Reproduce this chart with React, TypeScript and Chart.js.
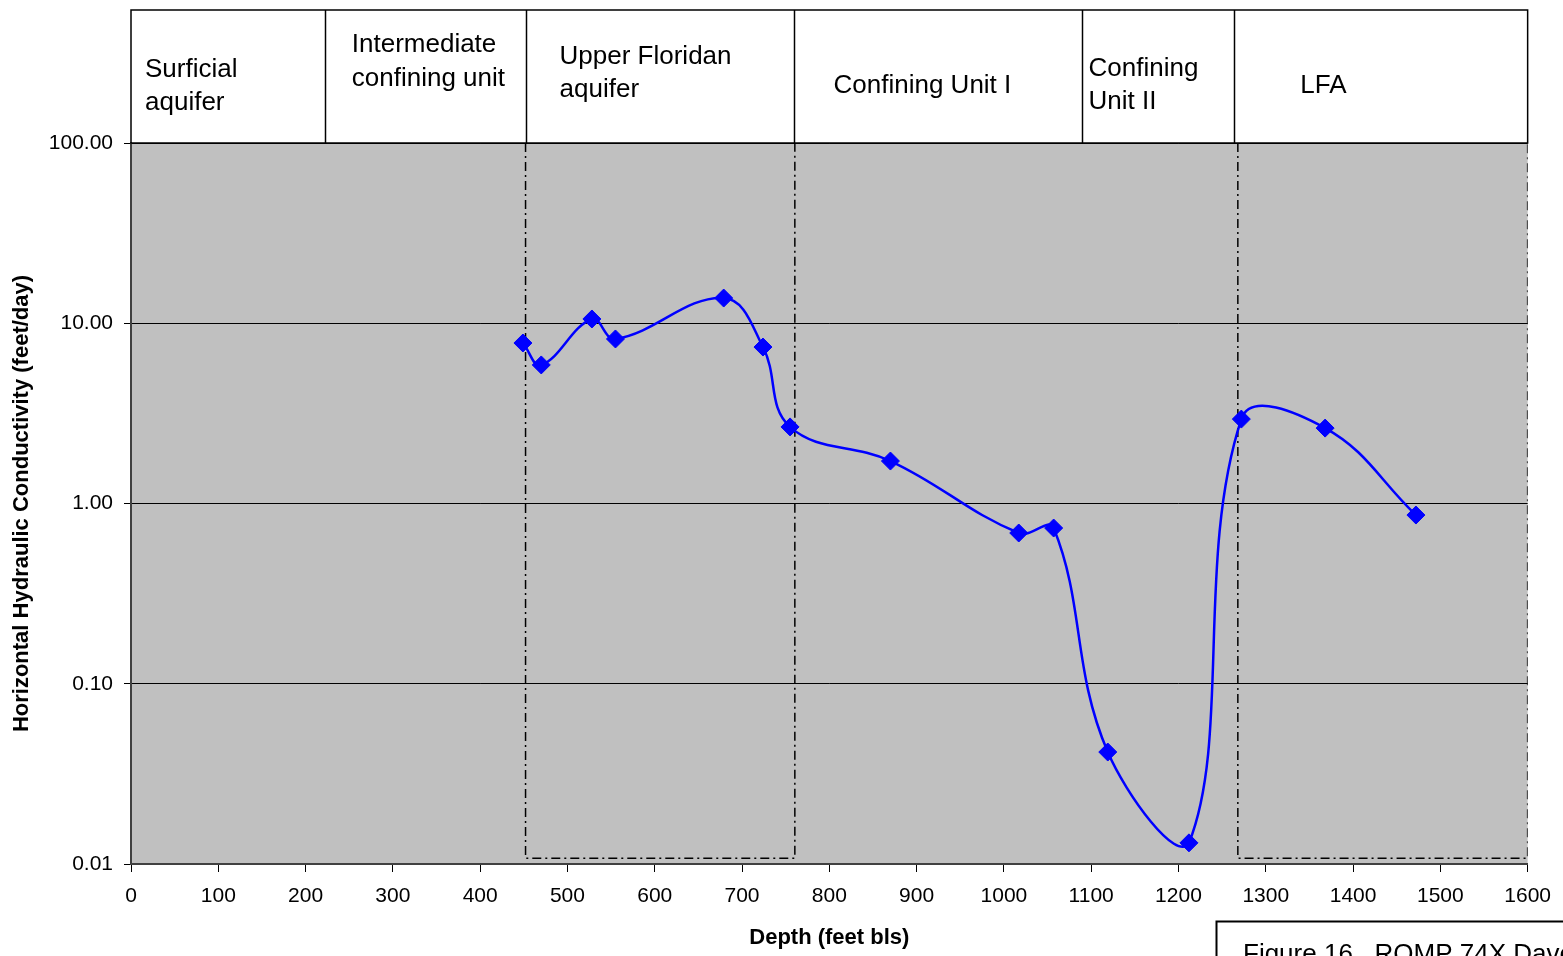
import React, { useEffect, useRef } from "react";
import { Chart, registerables } from "chart.js";

Chart.register(...registerables);

// ---- data ----
const depths = [449, 470, 528, 555, 679, 724, 755, 870, 1017, 1057, 1119, 1212, 1272, 1368, 1472];
const conductivity = [7.77, 5.87, 10.56, 8.18, 13.8, 7.38, 2.66, 1.72, 0.686, 0.731, 0.0418, 0.0131, 2.94, 2.62, 0.863];

const yTickValues = [0.01, 0.1, 1, 10, 100];
const xMin = 0;
const xMax = 1600;
const xStep = 100;

const ufaBoxDepths = [452, 452, 760.5, 760.5];
const lfaBoxDepths = [1268, 1268, 1600, 1600];
const boxValues = [100, 0.01076, 0.01076, 100];

const unitNames = [
  ["Surficial", "aquifer"],
  ["Intermediate", "confining unit"],
  ["Upper Floridan", "aquifer"],
  ["Confining Unit I"],
  ["Confining", "Unit II"],
  ["LFA"],
];
const unitBounds = [0, 222, 452, 759, 1089, 1264, 1600];

const xTitle = "Depth (feet bls)";
const yTitle = "Horizontal Hydraulic Conductivity (feet/day)";
const captionText = "Figure 16.  ROMP 74X Davenport";

const FONT = "'Liberation Sans', Arial, Helvetica, sans-serif";

const toXY = (xs: number[], ys: number[]) => xs.map((x, i) => ({ x, y: ys[i] }));

const decorPlugin = {
  id: "decor",
  beforeDraw(chart: any) {
    const { ctx, chartArea } = chart;
    ctx.save();
    ctx.fillStyle = "#ffffff";
    ctx.fillRect(0, 0, chart.width, chart.height);
    ctx.fillStyle = "#c0c0c0";
    ctx.fillRect(chartArea.left, chartArea.top, chartArea.right - chartArea.left, chartArea.bottom - chartArea.top);
    ctx.restore();
  },
  afterDraw(chart: any) {
    const { ctx, chartArea } = chart;
    const xs = chart.scales.x;
    const top = 10;
    const bottom = chartArea.top;
    ctx.save();
    // header boxes
    ctx.strokeStyle = "#000";
    ctx.lineWidth = 1.5;
    ctx.strokeRect(chartArea.left, top, chartArea.right - chartArea.left, bottom - top);
    for (let i = 1; i < unitBounds.length - 1; i++) {
      const px = Math.round(xs.getPixelForValue(unitBounds[i])) + 0.5;
      ctx.beginPath();
      ctx.moveTo(px, top);
      ctx.lineTo(px, bottom);
      ctx.stroke();
    }
    const textOffsets = [14, 27, 34, 40, 7, 66];
    const baselines = [[77, 110], [52, 86], [64, 97], [93], [76, 109], [93]];
    ctx.fillStyle = "#000";
    ctx.font = `26px ${FONT}`;
    ctx.textBaseline = "alphabetic";
    ctx.textAlign = "left";
    unitNames.forEach((lines, i) => {
      const x0 = xs.getPixelForValue(unitBounds[i]) + textOffsets[i];
      lines.forEach((t, j) => ctx.fillText(t, x0, baselines[i][j]));
    });
    // caption box (cut off at page edge)
    ctx.lineWidth = 2;
    ctx.strokeRect(1216.5, 921.5, 400, 80);
    ctx.font = `26px ${FONT}`;
    ctx.fillText(captionText, 1243, 962);
    ctx.restore();
  },
};

export default function App() {
  const ref = useRef<HTMLCanvasElement | null>(null);
  useEffect(() => {
    if (!ref.current) return;
    const dash = [9, 4, 2, 4];
    const chart = new Chart(ref.current, {
      type: "line",
      data: {
        datasets: [
          {
            data: toXY(depths, conductivity),
            borderColor: "#0000ff",
            backgroundColor: "#0000ff",
            borderWidth: 2.5,
            pointStyle: "rectRot",
            pointRadius: 9,
            pointBorderWidth: 1,
            pointBackgroundColor: "#0000ff",
            pointBorderColor: "#0000ff",
            tension: 0.4,
            fill: false,
          },
          {
            data: toXY(ufaBoxDepths, boxValues),
            borderColor: "#000",
            borderWidth: 1.5,
            borderDash: dash,
            pointRadius: 0,
            tension: 0,
            fill: false,
          },
          {
            data: toXY(lfaBoxDepths, boxValues),
            borderColor: "#000",
            borderWidth: 1.5,
            borderDash: dash,
            pointRadius: 0,
            tension: 0,
            fill: false,
          },
        ],
      },
      options: {
        responsive: false,
        animation: false,
        layout: { padding: { left: 0, top: 143, right: 35, bottom: 0 } },
        plugins: { legend: { display: false }, tooltip: { enabled: false } },
        scales: {
          x: {
            type: "linear",
            min: xMin,
            max: xMax,
            afterFit: (s: any) => {
              s.height = 92;
            },
            ticks: {
              stepSize: xStep,
              color: "#000",
              font: { family: FONT, size: 21 },
              padding: 12,
              maxRotation: 0,
              callback: (v: any) => String(v),
            },
            grid: { drawOnChartArea: false, color: "#000", tickLength: 8, lineWidth: 1 },
            border: { display: true, color: "#404040", width: 2 },
            title: {
              display: true,
              text: xTitle,
              color: "#000",
              font: { family: FONT, size: 22, weight: "bold" },
              padding: { top: 0, bottom: 5 },
            },
          },
          y: {
            type: "logarithmic",
            min: 0.01,
            max: 100,
            afterFit: (s: any) => {
              s.width = 131;
            },
            afterBuildTicks: (s: any) => {
              s.ticks = yTickValues.map((v) => ({ value: v }));
            },
            ticks: {
              color: "#000",
              font: { family: FONT, size: 21 },
              padding: 11,
              callback: (v: any) => Number(v).toFixed(2),
            },
            grid: { color: "#000", lineWidth: 1, tickLength: 7 },
            border: { display: true, color: "#404040", width: 2 },
            title: {
              display: true,
              text: yTitle,
              color: "#000",
              font: { family: FONT, size: 22, weight: "bold" },
              padding: { top: 9, bottom: 0 },
            },
          },
        },
      },
      plugins: [decorPlugin],
    } as any);
    return () => chart.destroy();
  }, []);
  return (
    <div style={{ position: "fixed", left: 0, top: 0, width: 1563, height: 956, background: "#fff" }}>
      <canvas ref={ref} width={1563} height={956} style={{ display: "block" }} />
    </div>
  );
}
